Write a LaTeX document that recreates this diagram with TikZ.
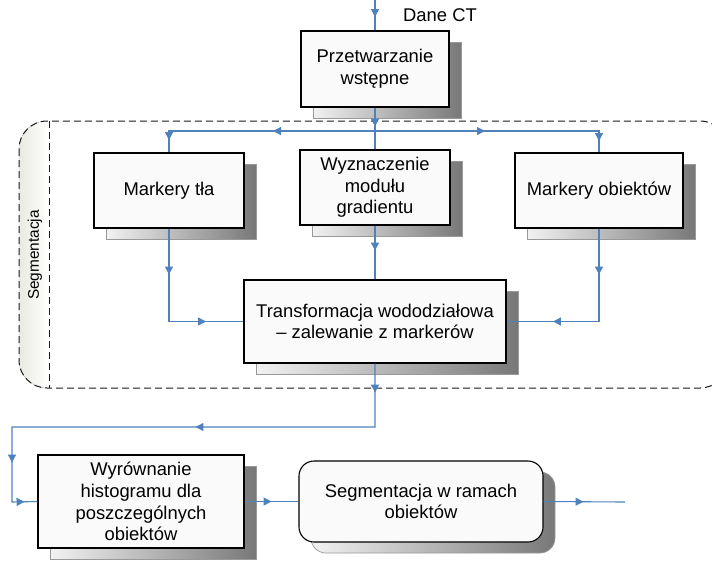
\documentclass[tikz,border=0pt]{standalone}
\usepackage{fontspec}
\setmainfont{Liberation Sans}
\usetikzlibrary{shadows,decorations.markings,arrows.meta}

\definecolor{linkblue}{RGB}{79,129,189}
\definecolor{boxfill}{RGB}{250,250,250}
\definecolor{shadelight}{RGB}{242,242,242}
\definecolor{shadedark}{RGB}{120,120,120}
\definecolor{tabfill}{RGB}{234,234,226}
\definecolor{framegray}{RGB}{25,25,25}

\tikzset{
  box/.style={draw=black, line width=1.1pt, fill=boxfill, align=center,
    inner sep=2pt,
    general shadow={shadow xshift=12pt, shadow yshift=-11pt,
      left color=shadelight, right color=shadedark, draw=black!40, line width=0.7pt}},
  flow/.style={draw=linkblue, line width=1.1pt},
  tipat/.style={postaction={decorate, decoration={markings,
    mark=at position #1 with {\arrow[linkblue]{Triangle[length=8pt,width=8pt]}}}}},
  frame/.style={draw=framegray, line width=1pt, dash pattern=on 7pt off 4pt}
}

\begin{document}
\begin{tikzpicture}[x=1pt, y=-1pt, font=\fontsize{18.4}{21.7}\selectfont]
\useasboundingbox (0,0) rectangle (712,563);

% segmentation frame with its label tab
\begin{scope}
  \clip[rounded corners=28pt] (19,121) rectangle (728,388);
  \fill[left color=tabfill, right color=white] (19,121) rectangle (49,388);
\end{scope}
\draw[frame, rounded corners=28pt] (19,121) rectangle (728,388);
\draw[frame] (49,121) -- (49,388);
\node[rotate=90, font=\fontsize{15.4}{18}\selectfont] (seglabel) at (35,255) {Segmentacja};

% processing steps
\node[box, minimum width=148pt, minimum height=76pt] (pre) at (375,69) {Przetwarzanie\\wstępne};
\node[box, minimum width=150pt, minimum height=75pt] (tla) at (169,190.5) {Markery tła};
\node[box, minimum width=150pt, minimum height=75pt] (wyz) at (375,187.5) {Wyznaczenie\\modułu\\gradientu};
\node[box, minimum width=168pt, minimum height=75pt] (obj) at (599,190.5) {Markery obiektów};
\node[box, minimum width=262pt, minimum height=83pt] (trans) at (375,321.5) {Transformacja wododziałowa\\– zalewanie z markerów};
\node[box, minimum width=206pt, minimum height=93pt] (wyr) at (141,501.5) {Wyrównanie\\histogramu dla\\poszczególnych\\obiektów};
\node[box, rounded corners=15pt, minimum width=244pt, minimum height=81pt] (seg) at (421,501.5) {Segmentacja w ramach\\obiektów};

% input label
\node[anchor=base west, inner sep=0pt] (dane) at (403,21) {Dane CT};

% helper points of the connectors
\coordinate (in) at (375,0);
\coordinate (split) at (375,131);
\coordinate (down) at (375,427);
\coordinate (back) at (12,427);
\coordinate (turn) at (12,502);
\coordinate (out) at (625,502);

% connectors
\draw[flow, tipat=17pt] (in) -- (pre.north);
\draw[flow, tipat=19pt] (pre.south) -- (wyz.north);
\draw[flow, tipat=102pt, tipat=215pt] (split) -- (split -| tla) -- (tla.north);
\draw[flow, tipat=110pt, tipat=234pt] (split) -- (split -| obj) -- (obj.north);
\draw[flow, tipat=46pt, tipat=130pt] (tla.south) -- (tla.south |- trans.west) -- (trans.west);
\draw[flow, tipat=46pt, tipat=139pt] (obj.south) -- (obj.south |- trans.east) -- (trans.east);
\draw[flow, tipat=25pt] (wyz.south) -- (trans.north);
\draw[flow, tipat=29pt, tipat=243pt, tipat=462pt, tipat=514pt]
  (trans.south) -- (down) -- (back) -- (turn) -- (wyr.west);
\draw[flow, tipat=27pt] (wyr.east) -- (seg.west);
\draw[flow, tipat=40pt] (seg.east) -- (out);
\end{tikzpicture}
\end{document}
